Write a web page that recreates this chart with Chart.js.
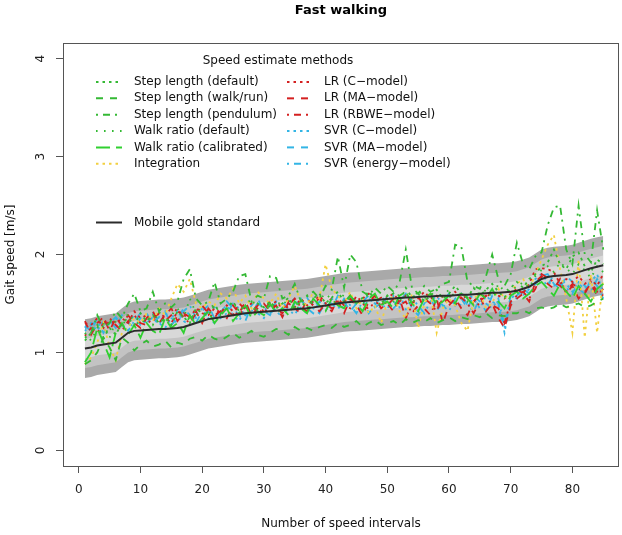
<!DOCTYPE html>
<html>
<head>
<meta charset="utf-8">
<title>Fast walking</title>
<script src="https://cdn.jsdelivr.net/npm/chart.js@4.4.1/dist/chart.umd.min.js"></script>
<style>
  html, body { margin: 0; padding: 0; background: #fff; }
  #wrap { width: 622px; height: 535px; }
</style>
</head>
<body>
<div id="wrap"><canvas id="speedChart" width="622" height="535"></canvas></div>
<script>
// speed intervals (x axis)
const intervals = Array.from({ length: 85 }, (_, i) => i + 1);
const xTicks = [0, 10, 20, 30, 40, 50, 60, 70, 80];
const yTicks = [0, 1, 2, 3, 4];

// mobile gold standard
const goldStandard = [
  1.04, 1.05, 1.07, 1.08, 1.09, 1.10, 1.15, 1.20, 1.22, 1.225,
  1.23, 1.235, 1.24, 1.24, 1.245, 1.25, 1.26, 1.28, 1.30, 1.32,
  1.34, 1.35, 1.36, 1.37, 1.38, 1.39, 1.40, 1.405, 1.41, 1.415,
  1.42, 1.425, 1.43, 1.435, 1.44, 1.445, 1.45, 1.46, 1.47, 1.48,
  1.49, 1.50, 1.51, 1.515, 1.52, 1.525, 1.53, 1.535, 1.54, 1.545,
  1.55, 1.555, 1.56, 1.56, 1.565, 1.57, 1.57, 1.575, 1.58, 1.58,
  1.585, 1.59, 1.59, 1.595, 1.60, 1.605, 1.61, 1.61, 1.615, 1.62,
  1.63, 1.65, 1.67, 1.71, 1.75, 1.77, 1.78, 1.785, 1.79, 1.80,
  1.82, 1.84, 1.86, 1.875, 1.89
];
// tolerance bands around the gold standard (m/s)
const bandWidths = [0.3, 0.2, 0.1];

const stepLengthDefault = [
  1.12, 1.20, 1.28, 1.15, 1.25, 1.18, 1.30, 1.35, 1.28, 1.40,
  1.32, 1.38, 1.30, 1.35, 1.28, 1.42, 1.36, 1.30, 1.45, 1.40,
  1.38, 1.48, 1.40, 1.45, 1.52, 1.42, 1.48, 1.40, 1.50, 1.46,
  1.52, 1.45, 1.50, 1.56, 1.46, 1.52, 1.45, 1.55, 1.60, 1.50,
  1.56, 1.62, 1.52, 1.58, 1.50, 1.56, 1.62, 1.54, 1.48, 1.58,
  1.60, 1.52, 1.66, 1.56, 1.60, 1.52, 1.58, 1.64, 1.55, 1.60,
  1.68, 1.60, 1.56, 1.66, 1.58, 1.64, 1.70, 1.62, 1.56, 1.66,
  1.72, 1.66, 1.75, 1.80, 1.88, 1.92, 2.05, 1.90, 1.85, 1.98,
  2.02, 1.88, 1.82, 1.95, 1.90
];
const stepLengthWalkRun = [
  0.88, 0.92, 1.00, 1.15, 1.05, 0.92, 1.15, 1.10, 1.02, 1.08,
  1.12, 1.06, 1.08, 1.12, 1.05, 1.10, 1.08, 1.14, 1.16, 1.12,
  1.18, 1.14, 1.12, 1.16, 1.20, 1.15, 1.18, 1.22, 1.18, 1.16,
  1.20, 1.24, 1.22, 1.18, 1.26, 1.22, 1.25, 1.22, 1.26, 1.28,
  1.25, 1.30, 1.26, 1.28, 1.32, 1.26, 1.30, 1.33, 1.28, 1.30,
  1.32, 1.28, 1.34, 1.30, 1.33, 1.31, 1.35, 1.30, 1.33, 1.36,
  1.32, 1.36, 1.34, 1.38, 1.36, 1.40, 1.35, 1.38, 1.37, 1.40,
  1.40, 1.43, 1.40, 1.45, 1.46, 1.44, 1.46, 1.50, 1.46, 1.48,
  1.50, 1.46, 1.48, 1.52, 1.55
];
const stepLengthPendulum = [
  1.15, 1.20, 1.38, 1.25, 1.30, 1.42, 1.35, 1.50, 1.60, 1.42,
  1.45, 1.62, 1.42, 1.50, 1.46, 1.52, 1.75, 1.85, 1.55, 1.48,
  1.52, 1.72, 1.50, 1.55, 1.62, 1.78, 1.80, 1.52, 1.58, 1.55,
  1.78, 1.76, 1.55, 1.58, 1.70, 1.52, 1.58, 1.62, 1.55, 1.68,
  1.64, 1.98, 1.66, 2.00, 1.92, 1.62, 1.58, 1.66, 1.60, 1.68,
  1.62, 1.72, 2.05, 1.66, 1.60, 1.68, 1.62, 1.65, 1.70, 1.72,
  2.10, 2.08, 1.72, 1.68, 1.65, 1.78, 2.00, 1.75, 1.68, 1.80,
  2.12, 1.90, 1.85, 1.98, 2.02, 2.30, 2.48, 2.50, 2.05, 1.90,
  2.50, 2.00, 1.92, 2.45, 2.05
];
const walkRatioDefault = [
  1.20, 1.12, 1.25, 1.30, 1.15, 1.32, 1.25, 1.40, 1.32, 1.28,
  1.36, 1.28, 1.42, 1.30, 1.38, 1.45, 1.35, 1.55, 1.40, 1.34,
  1.42, 1.50, 1.38, 1.45, 1.52, 1.40, 1.48, 1.55, 1.42, 1.50,
  1.45, 1.52, 1.48, 1.55, 1.42, 1.50, 1.58, 1.48, 1.54, 1.60,
  1.54, 1.48, 1.60, 1.52, 1.56, 1.48, 1.62, 1.55, 1.50, 1.58,
  1.52, 1.60, 1.56, 1.48, 1.64, 1.55, 1.60, 1.52, 1.58, 1.64,
  1.56, 1.62, 1.52, 1.66, 1.58, 1.64, 1.56, 1.70, 1.62, 1.66,
  1.66, 1.72, 1.66, 1.78, 1.84, 1.88, 1.82, 1.92, 1.86, 1.80,
  1.90, 1.84, 1.76, 1.88, 1.82
];
const walkRatioCalibrated = [
  0.90, 1.00, 1.25, 1.10, 0.95, 1.20, 1.30, 1.18, 1.28, 1.15,
  1.30, 1.22, 1.18, 1.35, 1.25, 1.30, 1.20, 1.38, 1.28, 1.35,
  1.42, 1.30, 1.38, 1.45, 1.32, 1.40, 1.48, 1.35, 1.42, 1.38,
  1.50, 1.40, 1.45, 1.38, 1.52, 1.45, 1.40, 1.55, 1.48, 1.42,
  1.55, 1.48, 1.45, 1.58, 1.50, 1.42, 1.55, 1.60, 1.48, 1.52,
  1.45, 1.58, 1.62, 1.50, 1.42, 1.55, 1.60, 1.48, 1.52, 1.58,
  1.50, 1.62, 1.55, 1.48, 1.60, 1.55, 1.65, 1.52, 1.45, 1.58,
  1.62, 1.55, 1.60, 1.68, 1.72, 1.65, 1.58, 1.70, 1.62, 1.55,
  1.68, 1.60, 1.52, 1.65, 1.70
];
const integration = [
  0.88, 0.95, 1.10, 1.30, 1.05, 0.92, 1.20, 1.25, 1.35, 1.30,
  1.40, 1.32, 1.45, 1.38, 1.55, 1.70, 1.62, 1.75, 1.50, 1.45,
  1.52, 1.48, 1.60, 1.55, 1.65, 1.50, 1.58, 1.45, 1.62, 1.55,
  1.50, 1.60, 1.45, 1.55, 1.68, 1.52, 1.48, 1.62, 1.55, 1.90,
  1.65, 1.58, 1.50, 1.62, 1.45, 1.55, 1.40, 1.48, 1.30, 1.52,
  1.58, 1.42, 1.35, 1.60, 1.25, 1.50, 1.62, 1.20, 1.45, 1.55,
  1.48, 1.30, 1.22, 1.55, 1.60, 1.45, 1.50, 1.65, 1.55, 1.62,
  1.70, 1.75, 1.65, 1.80, 1.95, 2.10, 2.20, 1.85, 1.55, 1.20,
  1.95, 1.15, 1.80, 1.20, 1.75
];
const lrC = [
  1.30, 1.28, 1.35, 1.25, 1.32, 1.30, 1.35, 1.30, 1.42, 1.35,
  1.38, 1.32, 1.40, 1.36, 1.30, 1.42, 1.38, 1.35, 1.45, 1.40,
  1.38, 1.45, 1.40, 1.48, 1.42, 1.38, 1.46, 1.50, 1.44, 1.40,
  1.48, 1.52, 1.45, 1.50, 1.46, 1.55, 1.48, 1.52, 1.58, 1.50,
  1.55, 1.48, 1.52, 1.58, 1.50, 1.55, 1.60, 1.52, 1.48, 1.56,
  1.60, 1.52, 1.58, 1.50, 1.55, 1.62, 1.55, 1.58, 1.50, 1.56,
  1.62, 1.55, 1.58, 1.52, 1.60, 1.56, 1.62, 1.58, 1.55, 1.60,
  1.65, 1.60, 1.70, 1.85, 1.86, 1.85, 1.82, 1.70, 1.75, 1.72,
  1.78, 1.70, 1.75, 1.68, 1.80
];
const lrMA = [
  1.32, 1.18, 1.30, 1.36, 1.22, 1.35, 1.28, 1.38, 1.30, 1.25,
  1.35, 1.42, 1.30, 1.38, 1.45, 1.32, 1.40, 1.36, 1.42, 1.30,
  1.45, 1.38, 1.42, 1.35, 1.48, 1.40, 1.52, 1.38, 1.45, 1.50,
  1.42, 1.48, 1.36, 1.52, 1.45, 1.40, 1.55, 1.48, 1.42, 1.50,
  1.45, 1.52, 1.40, 1.55, 1.48, 1.38, 1.52, 1.58, 1.45, 1.50,
  1.42, 1.55, 1.35, 1.50, 1.58, 1.45, 1.38, 1.55, 1.30, 1.48,
  1.55, 1.45, 1.38, 1.52, 1.58, 1.42, 1.50, 1.35, 1.25, 1.48,
  1.55, 1.60, 1.52, 1.72, 1.78, 1.70, 1.65, 1.75, 1.60, 1.68,
  1.55, 1.62, 1.70, 1.58, 1.65
];
const lrRBWE = [
  1.17, 1.25, 1.20, 1.30, 1.35, 1.28, 1.22, 1.32, 1.38, 1.30,
  1.28, 1.35, 1.40, 1.32, 1.38, 1.45, 1.35, 1.30, 1.40, 1.48,
  1.40, 1.35, 1.45, 1.42, 1.38, 1.50, 1.44, 1.40, 1.48, 1.42,
  1.52, 1.45, 1.40, 1.48, 1.55, 1.46, 1.42, 1.50, 1.55, 1.48,
  1.42, 1.55, 1.48, 1.45, 1.58, 1.50, 1.44, 1.52, 1.56, 1.48,
  1.55, 1.48, 1.52, 1.40, 1.48, 1.55, 1.50, 1.42, 1.58, 1.52,
  1.48, 1.56, 1.50, 1.40, 1.52, 1.58, 1.48, 1.45, 1.30, 1.52,
  1.58, 1.62, 1.55, 1.65, 1.80, 1.76, 1.72, 1.68, 1.62, 1.70,
  1.66, 1.60, 1.72, 1.62, 1.58
];
const svrC = [
  1.25, 1.30, 1.22, 1.32, 1.28, 1.35, 1.25, 1.30, 1.38, 1.28,
  1.32, 1.40, 1.30, 1.25, 1.35, 1.42, 1.32, 1.28, 1.38, 1.45,
  1.35, 1.30, 1.42, 1.48, 1.38, 1.32, 1.45, 1.50, 1.40, 1.35,
  1.48, 1.42, 1.36, 1.50, 1.55, 1.45, 1.40, 1.52, 1.48, 1.42,
  1.55, 1.50, 1.45, 1.58, 1.48, 1.42, 1.55, 1.50, 1.45, 1.58,
  1.52, 1.46, 1.58, 1.50, 1.42, 1.55, 1.60, 1.48, 1.45, 1.58,
  1.52, 1.48, 1.60, 1.55, 1.45, 1.58, 1.52, 1.48, 1.20, 1.55,
  1.60, 1.58, 1.65, 1.75, 1.80, 1.72, 1.68, 1.75, 1.70, 1.62,
  1.70, 1.65, 1.72, 1.80, 1.60
];
const svrMA = [
  1.27, 1.22, 1.35, 1.28, 1.32, 1.25, 1.38, 1.30, 1.26, 1.35,
  1.40, 1.30, 1.36, 1.42, 1.28, 1.35, 1.45, 1.38, 1.30, 1.42,
  1.48, 1.35, 1.40, 1.52, 1.45, 1.38, 1.32, 1.48, 1.55, 1.42,
  1.38, 1.52, 1.46, 1.40, 1.50, 1.55, 1.45, 1.40, 1.52, 1.48,
  1.45, 1.58, 1.52, 1.42, 1.50, 1.55, 1.40, 1.48, 1.58, 1.50,
  1.45, 1.52, 1.60, 1.45, 1.38, 1.50, 1.56, 1.42, 1.52, 1.60,
  1.48, 1.55, 1.45, 1.58, 1.52, 1.42, 1.58, 1.50, 1.28, 1.50,
  1.58, 1.65, 1.60, 1.70, 1.78, 1.80, 1.70, 1.65, 1.78, 1.72,
  1.65, 1.60, 1.75, 1.68, 1.55
];
const svrEnergy = [
  1.22, 1.28, 1.32, 1.20, 1.30, 1.36, 1.28, 1.22, 1.32, 1.40,
  1.30, 1.36, 1.28, 1.40, 1.35, 1.30, 1.42, 1.48, 1.35, 1.32,
  1.42, 1.46, 1.35, 1.40, 1.50, 1.45, 1.38, 1.42, 1.50, 1.46,
  1.40, 1.45, 1.52, 1.44, 1.38, 1.50, 1.56, 1.45, 1.40, 1.52,
  1.50, 1.44, 1.55, 1.48, 1.40, 1.52, 1.58, 1.46, 1.50, 1.44,
  1.58, 1.50, 1.44, 1.55, 1.48, 1.40, 1.52, 1.58, 1.48, 1.42,
  1.55, 1.60, 1.48, 1.42, 1.55, 1.50, 1.45, 1.55, 1.25, 1.58,
  1.55, 1.62, 1.68, 1.72, 1.75, 1.68, 1.80, 1.70, 1.66, 1.60,
  1.72, 1.68, 1.62, 1.75, 1.65
];

const FONT = '"DejaVu Sans", "Liberation Sans", sans-serif';
const GREEN = '#34b934';
const GREEN2 = '#30d030';
const RED = '#d42020';
const BLUE = '#33b5e5';
const YELLOW = '#f2d040';
const DOTTED = [2.5, 4];
const DASHED = [7, 7];
const DOTDASH = [2, 5, 7, 5];
const SPARSE = [1.6, 6.4];
const LONGDASH = [14, 6];

const methods = [
  { label: 'Step length (default)', data: stepLengthDefault, color: GREEN, dash: DOTTED },
  { label: 'Step length (walk/run)', data: stepLengthWalkRun, color: GREEN, dash: DASHED },
  { label: 'Step length (pendulum)', data: stepLengthPendulum, color: GREEN, dash: DOTDASH },
  { label: 'Walk ratio (default)', data: walkRatioDefault, color: GREEN, dash: SPARSE },
  { label: 'Walk ratio (calibrated)', data: walkRatioCalibrated, color: GREEN2, dash: LONGDASH },
  { label: 'Integration', data: integration, color: YELLOW, dash: DOTTED },
  { label: 'LR (C\u2212model)', data: lrC, color: RED, dash: DOTTED },
  { label: 'LR (MA\u2212model)', data: lrMA, color: RED, dash: DASHED },
  { label: 'LR (RBWE\u2212model)', data: lrRBWE, color: RED, dash: DOTDASH },
  { label: 'SVR (C\u2212model)', data: svrC, color: BLUE, dash: DOTTED },
  { label: 'SVR (MA\u2212model)', data: svrMA, color: BLUE, dash: DASHED },
  { label: 'SVR (energy\u2212model)', data: svrEnergy, color: BLUE, dash: DOTDASH }
];

const toPoints = arr => arr.map((v, i) => ({ x: intervals[i], y: v }));

// build datasets: bands first in the array but drawn underneath via order
const datasets = [];
methods.forEach(m => {
  datasets.push({
    label: m.label,
    data: toPoints(m.data),
    borderColor: m.color,
    borderDash: m.dash,
    borderWidth: 1.8,
    pointRadius: 0,
    fill: false,
    order: 1
  });
});
datasets.push({
  label: 'Mobile gold standard',
  data: toPoints(goldStandard),
  borderColor: '#2b2b2b',
  borderWidth: 2,
  pointRadius: 0,
  fill: false,
  order: 0
});
const bandColors = ['#a9a9a9', '#c3c3c3', '#d8d8d8'];
bandWidths.forEach((w, k) => {
  const upperIndex = datasets.length;
  datasets.push({
    label: 'band+' + w,
    data: toPoints(goldStandard.map(v => v + w)),
    borderWidth: 0,
    pointRadius: 0,
    fill: false,
    order: 10 - k
  });
  datasets.push({
    label: 'band-' + w,
    data: toPoints(goldStandard.map(v => v - w)),
    borderWidth: 0,
    pointRadius: 0,
    backgroundColor: bandColors[k],
    fill: upperIndex,
    order: 10 - k
  });
});

// R style decorations: frame, title, rotated y labels, legend
const rDecor = {
  id: 'rDecor',
  afterDraw(chart) {
    const ctx = chart.ctx;
    const a = chart.chartArea;
    const yScale = chart.scales.y;

    ctx.save();
    ctx.strokeStyle = '#555';
    ctx.lineWidth = 1;
    ctx.strokeRect(Math.round(a.left) + 0.5, Math.round(a.top) + 0.5,
      Math.round(a.right - a.left) - 1, Math.round(a.bottom - a.top));

    ctx.fillStyle = '#000';
    ctx.font = 'bold 13px ' + FONT;
    ctx.textAlign = 'center';
    ctx.textBaseline = 'middle';
    ctx.fillText('Fast walking', (a.left + a.right) / 2, 11);

    ctx.font = '12px ' + FONT;
    ctx.fillStyle = '#222';
    yTicks.forEach(v => {
      ctx.save();
      ctx.translate(41, yScale.getPixelForValue(v));
      ctx.rotate(-Math.PI / 2);
      ctx.fillText(String(v), 0, 0);
      ctx.restore();
    });

    // legend
    ctx.fillStyle = '#111';
    ctx.fillText('Speed estimate methods', 278, 61);
    ctx.textAlign = 'left';
    const rowY0 = 82, rowH = 16.35;
    methods.forEach((m, i) => {
      const col = i < 6 ? 0 : 1;
      const row = i % 6;
      const y = rowY0 + row * rowH;
      const lx = col === 0 ? 96 : 287;
      const tx = col === 0 ? 134 : 324;
      ctx.save();
      ctx.strokeStyle = m.color;
      ctx.lineWidth = 2;
      ctx.setLineDash(m.dash);
      ctx.beginPath();
      ctx.moveTo(lx, y);
      ctx.lineTo(lx + 26, y);
      ctx.stroke();
      ctx.restore();
      ctx.fillText(m.label, tx, y);
    });
    ctx.strokeStyle = '#2b2b2b';
    ctx.lineWidth = 2;
    ctx.setLineDash([]);
    ctx.beginPath();
    ctx.moveTo(96, 222.5);
    ctx.lineTo(122, 222.5);
    ctx.stroke();
    ctx.fillText('Mobile gold standard', 134, 222.5);
    ctx.restore();
  }
};

new Chart(document.getElementById('speedChart'), {
  type: 'line',
  data: { datasets: datasets },
  options: {
    responsive: false,
    animation: false,
    events: [],
    layout: { padding: { top: 43, right: 3, left: 0, bottom: 0 } },
    plugins: {
      legend: { display: false },
      title: { display: false },
      tooltip: { enabled: false },
      filler: { propagate: false }
    },
    elements: { line: { tension: 0, borderCapStyle: 'butt' } },
    scales: {
      x: {
        type: 'linear',
        min: -2.55,
        max: 87.55,
        afterBuildTicks: ax => { ax.ticks = xTicks.map(v => ({ value: v })); },
        afterFit: ax => { ax.height = 69; },
        grid: { drawOnChartArea: false, drawTicks: true, tickLength: 7, tickColor: '#555' },
        border: { display: false },
        ticks: { font: { family: FONT, size: 12 }, color: '#222', padding: 10, maxRotation: 0 },
        title: { display: true, text: 'Number of speed intervals', font: { family: FONT, size: 12 }, color: '#111' }
      },
      y: {
        type: 'linear',
        min: -0.16,
        max: 4.16,
        afterBuildTicks: ax => { ax.ticks = yTicks.map(v => ({ value: v })); },
        afterFit: ax => { ax.width = 63; },
        grid: { drawOnChartArea: false, drawTicks: true, tickLength: 7, tickColor: '#555' },
        border: { display: false },
        ticks: { display: false },
        title: { display: true, text: 'Gait speed [m/s]', font: { family: FONT, size: 12 }, color: '#111' }
      }
    }
  },
  plugins: [rDecor]
});
</script>
</body>
</html>
